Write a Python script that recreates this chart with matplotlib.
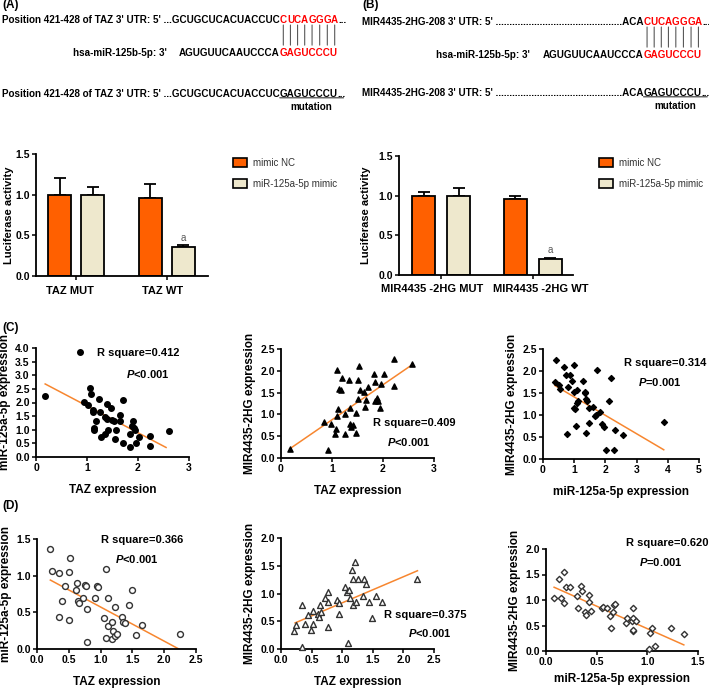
import matplotlib
matplotlib.use('Agg')
import matplotlib.pyplot as plt
from matplotlib.patches import Patch

plt.rcParams['font.family'] = ['Liberation Sans', 'DejaVu Sans']
plt.rcParams['font.weight'] = 'bold'
plt.rcParams['axes.labelweight'] = 'bold'
plt.rcParams['mathtext.fontset'] = 'custom'
plt.rcParams['mathtext.it'] = 'Liberation Sans:italic:bold'
plt.rcParams['mathtext.rm'] = 'Liberation Sans:bold'

W, H = 709, 691

# ---- sequences ----
utr_label_a = "Position 421-428 of TAZ 3' UTR: 5' ...GCUGCUCACUACCUC"
utr_label_b = "MIR4435-2HG-208 3' UTR: 5' " + "." * 46 + "ACA"
site_seq = "CUCAGGGA"
mir_label = "hsa-miR-125b-5p: 3'"
mir_seq = "AGUGUUCAAUCCCA"
seed_seq = "GAGUCCCU"

# ---- luciferase bars ----
groups_a = ['TAZ MUT', 'TAZ WT']
groups_b = ['MIR4435 -2HG MUT', 'MIR4435 -2HG WT']
series = ['mimic NC', 'miR-125a-5p mimic']
luc_a_nc = [1.0, 0.96]
luc_a_nc_err = [0.2, 0.17]
luc_a_mimic = [1.0, 0.36]
luc_a_mimic_err = [0.1, 0.02]
luc_b_nc = [1.0, 0.96]
luc_b_nc_err = [0.05, 0.04]
luc_b_mimic = [1.0, 0.2]
luc_b_mimic_err = [0.1, 0.02]

# ---- correlation (C) ----
c1_x = [0.18, 0.87, 0.95, 1.01, 1.05, 1.08, 1.11, 1.11, 1.13, 1.13, 1.18, 1.23, 1.26, 1.28,
        1.36, 1.36, 1.39, 1.40, 1.42, 1.48, 1.50, 1.52, 1.54, 1.56, 1.70, 1.65, 1.65, 1.71,
        1.84, 1.85, 1.88, 1.90, 1.93, 1.95, 1.97, 2.02, 2.23, 2.23, 2.60]
c1_y = [2.25, 3.87, 2.02, 1.90, 2.55, 2.31, 1.74, 1.64, 1.06, 1.00, 1.33, 2.14, 1.64, 0.75,
        1.46, 0.86, 1.96, 1.41, 1.00, 1.80, 1.37, 1.32, 0.67, 1.00, 2.09, 1.55, 1.33, 0.51,
        0.86, 0.37, 1.15, 1.33, 1.08, 1.00, 0.51, 0.72, 0.78, 0.42, 0.97]
c1_fit_x = [0.18, 2.55]
c1_fit_y = [2.68, 0.35]

c2_x = [0.17, 0.84, 0.93, 0.99, 1.05, 1.07, 1.09, 1.10, 1.12, 1.13, 1.17, 1.20, 1.25, 1.26,
        1.34, 1.35, 1.36, 1.38, 1.41, 1.47, 1.47, 1.51, 1.51, 1.52, 1.55, 1.63, 1.64, 1.67,
        1.71, 1.82, 1.84, 1.85, 1.88, 1.90, 1.95, 1.97, 2.01, 2.22, 2.22, 2.56]
c2_y = [0.21, 0.83, 0.19, 0.79, 0.56, 0.66, 0.97, 2.02, 1.12, 1.59, 1.55, 1.83, 1.00, 0.54,
        1.79, 1.15, 0.79, 0.70, 0.75, 0.57, 1.04, 1.79, 1.35, 2.11, 1.55, 1.52, 1.18, 1.32,
        1.62, 1.93, 1.75, 1.31, 1.37, 1.31, 1.15, 1.69, 1.93, 2.28, 1.64, 2.16]
c2_fit_x = [0.17, 2.56]
c2_fit_y = [0.21, 2.13]

c3_x = [0.38, 0.43, 0.51, 0.53, 0.68, 0.74, 0.77, 0.81, 0.88, 0.92, 1.00, 1.00, 1.00, 1.03,
        1.05, 1.09, 1.09, 1.13, 1.28, 1.34, 1.36, 1.37, 1.37, 1.41, 1.46, 1.47, 1.60, 1.66,
        1.69, 1.73, 1.82, 1.90, 1.97, 2.02, 2.10, 2.18, 2.29, 2.32, 2.56, 3.87]
c3_y = [1.76, 2.26, 1.68, 1.60, 2.10, 1.92, 0.57, 1.64, 1.92, 1.77, 2.14, 1.53, 1.16, 1.13,
        0.76, 1.57, 1.28, 1.31, 1.77, 1.53, 1.50, 1.36, 0.60, 1.32, 0.81, 1.15, 1.19, 0.97,
        0.99, 2.02, 1.06, 0.79, 0.73, 0.21, 1.31, 1.83, 0.21, 0.66, 0.55, 0.85]
c3_fit_x = [0.38, 3.87]
c3_fit_y = [1.67, 0.21]

# ---- correlation (D) ----
d1_x = [0.21, 0.24, 0.34, 0.34, 0.40, 0.44, 0.50, 0.51, 0.52, 0.62, 0.63, 0.65, 0.66, 0.73,
        0.76, 0.77, 0.78, 0.79, 0.91, 0.94, 0.96, 1.05, 1.08, 1.09, 1.11, 1.12, 1.18, 1.18,
        1.19, 1.22, 1.22, 1.25, 1.34, 1.36, 1.39, 1.44, 1.49, 1.55, 1.65, 2.25]
d1_y = [1.37, 1.07, 1.03, 0.44, 0.65, 0.86, 1.05, 0.40, 1.24, 0.80, 0.90, 0.66, 0.63, 0.69,
        0.87, 0.86, 0.09, 0.55, 0.69, 0.86, 0.85, 0.42, 0.15, 1.09, 0.69, 0.32, 0.37, 0.14,
        0.24, 0.18, 0.57, 0.21, 0.43, 0.37, 0.36, 0.60, 0.80, 0.19, 0.33, 0.20]
d1_fit_x = [0.21, 2.23]
d1_fit_y = [0.94, 0.0]

d2_x = [0.21, 0.25, 0.34, 0.34, 0.40, 0.44, 0.49, 0.52, 0.53, 0.61, 0.62, 0.63, 0.66, 0.72,
        0.77, 0.77, 0.76, 0.91, 0.94, 0.95, 1.04, 1.08, 1.09, 1.11, 1.12, 1.16, 1.17, 1.18,
        1.21, 1.22, 1.26, 1.34, 1.36, 1.39, 1.43, 1.48, 1.55, 1.65, 2.23]
d2_y = [0.33, 0.44, 0.04, 0.79, 0.45, 0.62, 0.35, 0.69, 0.45, 0.63, 0.57, 0.79, 0.67, 0.91,
        0.84, 1.03, 0.39, 0.88, 0.83, 0.63, 1.11, 1.03, 0.10, 1.07, 0.91, 1.42, 1.26, 0.79,
        1.56, 0.85, 1.26, 0.95, 1.26, 1.17, 0.84, 0.55, 0.96, 0.84, 1.26]
d2_fit_x = [0.23, 2.23]
d2_fit_y = [0.47, 1.41]

d3_x = [0.08, 0.13, 0.15, 0.18, 0.18, 0.20, 0.24, 0.31, 0.32, 0.35, 0.36, 0.38, 0.39, 0.42,
        0.42, 0.44, 0.55, 0.56, 0.60, 0.63, 0.64, 0.66, 0.67, 0.68, 0.79, 0.80, 0.85, 0.86,
        0.86, 0.86, 0.86, 0.89, 1.02, 1.03, 1.05, 1.08, 1.23, 1.36]
d3_y = [1.04, 1.42, 1.04, 0.95, 1.55, 1.25, 1.25, 1.07, 0.85, 1.27, 1.17, 0.77, 0.70, 1.10,
        0.96, 0.79, 0.85, 0.86, 0.84, 0.68, 0.45, 0.77, 0.90, 0.92, 0.54, 0.64, 0.59, 0.64,
        0.84, 0.39, 0.41, 0.58, 0.04, 0.35, 0.45, 0.10, 0.45, 0.33]
d3_fit_x = [0.08, 1.36]
d3_fit_y = [1.25, 0.12]

ORANGE = '#FF6000'
CREAM = '#EEE8CD'
FIT = '#F7862F'

fig = plt.figure(figsize=(W / 100, H / 100), dpi=100)


def px_axes(x0, y0, x1, y1):
    return fig.add_axes([x0 / W, 1 - y1 / H, (x1 - x0) / W, (y1 - y0) / H])


def style(ax):
    for s in ['top', 'right']:
        ax.spines[s].set_visible(False)
    for s in ['left', 'bottom']:
        ax.spines[s].set_linewidth(1.3)
    ax.tick_params(direction='out', length=3, width=1.1, labelsize=7.5, pad=1.5)


# ---- text panels ----
tax = fig.add_axes([0, 0, 1, 1])
tax.set_xlim(0, W)
tax.set_ylim(H, 0)
tax.axis('off')

FS = 7.1


def chain(prev, s, color='black'):
    return tax.annotate(s, xy=(1, 0), xycoords=prev, ha='left', va='bottom',
                        fontsize=FS, color=color)


def site_block(x0, label, y_top, y_mut):
    t = tax.text(x0, y_top, label, fontsize=FS, va='center', ha='left')
    letters = []
    prev = t
    for ch in site_seq:
        prev = chain(prev, ch, 'red')
        letters.append(prev)
    chain(prev, '...')
    for lt in letters:
        tax.annotate('', xy=(0.5, 0.0), xycoords=lt, xytext=(0, -14.5),
                     textcoords='offset points',
                     arrowprops=dict(arrowstyle='-', lw=0.8, color='0.35',
                                     shrinkA=0, shrinkB=0))
    # miRNA line
    seed = tax.annotate(seed_seq, xy=(0, 0), xycoords=letters[0], xytext=(0, -23.8),
                        textcoords='offset points', ha='left', va='bottom',
                        fontsize=FS, color='red')
    seq = tax.annotate(mir_seq, xy=(0, 0), xycoords=seed, ha='right', va='bottom',
                       fontsize=FS)
    tax.annotate(mir_label, xy=(0, 0.5), xycoords=seq, xytext=(-9, 0),
                 textcoords='offset points', ha='right', va='center', fontsize=FS)
    # mutant line
    t3 = tax.text(x0, y_mut, label, fontsize=FS, va='center', ha='left')
    mut = chain(t3, seed_seq)
    chain(mut, '...')
    tax.annotate('', xy=(1.1, 0.12), xycoords=mut, xytext=(0, 0.12), textcoords=mut,
                 arrowprops=dict(arrowstyle='-', lw=0.8, color='0.2', shrinkA=0, shrinkB=0))
    tax.annotate('mutation', xy=(0.55, 0), xycoords=mut, xytext=(0, -2),
                 textcoords='offset points', ha='center', va='top', fontsize=FS)


site_block(2, utr_label_a, 20, 94)
site_block(362, utr_label_b, 22, 93)

for lab, x, y in [('(A)', 2, 5), ('(B)', 362, 5), ('(C)', 2, 328), ('(D)', 2, 506)]:
    tax.text(x, y, lab, fontsize=8.5, va='center', ha='left')


# ---- bar charts ----
def bar_panel(ax, groups, nc, nc_err, mim, mim_err, centers, off, label_x, ylab_x):
    xs_nc = [c - off for c in centers]
    xs_m = [c + off for c in centers]
    ax.bar(xs_nc, nc, width=1.0, color=ORANGE, edgecolor='black', linewidth=1.3, zorder=2)
    ax.bar(xs_m, mim, width=1.0, color=CREAM, edgecolor='black', linewidth=1.3, zorder=2)
    ax.errorbar(xs_nc, nc, yerr=[[0] * len(nc), nc_err], fmt='none', ecolor='black',
                elinewidth=1.3, capsize=4, capthick=1.3, zorder=1)
    ax.errorbar(xs_m, mim, yerr=[[0] * len(mim), mim_err], fmt='none', ecolor='black',
                elinewidth=1.3, capsize=4, capthick=1.3, zorder=1)
    ax.text(xs_m[1], mim[1] + mim_err[1] + 0.03, 'a', ha='center', va='bottom',
            fontsize=7, fontweight='normal', color='0.35')
    ax.set_xlim(0, 7.5)
    ax.set_ylim(0, 1.5)
    ax.set_yticks([0, 0.5, 1.0, 1.5])
    ax.set_yticklabels(['0.0', '0.5', '1.0', '1.5'])
    ax.set_xticks(centers)
    ax.set_xticklabels([])
    for g, lx in zip(groups, label_x):
        ax.text(lx, -0.12, g, transform=ax.get_xaxis_transform(), ha='center', va='center',
                fontsize=8)
    ax.set_ylabel('Luciferase activity', fontsize=8)
    ax.yaxis.set_label_coords(ylab_x, 0.5)
    style(ax)


ax_a = px_axes(36, 154, 208, 276)
bar_panel(ax_a, groups_a, luc_a_nc, luc_a_nc_err, luc_a_mimic, luc_a_mimic_err,
          [1.75, 5.7], 0.72, [1.5, 5.5], -0.128)
ax_b = px_axes(399, 156, 573, 275)
bar_panel(ax_b, groups_b, luc_b_nc, luc_b_nc_err, luc_b_mimic, luc_b_mimic_err,
          [1.82, 5.77], 0.75, [1.42, 6.12], -0.16)

handles = [Patch(facecolor=ORANGE, edgecolor='black', linewidth=1.2, label=series[0]),
           Patch(facecolor=CREAM, edgecolor='black', linewidth=1.2, label=series[1])]
for lx in [228, 594]:
    fig.legend(handles=handles, loc='upper left', bbox_to_anchor=(lx / W, 1 - 153 / H),
               frameon=False, prop=dict(size=7, weight='normal'), handlelength=1.5,
               handleheight=1.1, labelspacing=1.1, handletextpad=0.6, borderpad=0,
               labelcolor='0.2')


# ---- scatter plots ----
def scatter_panel(ax, x, y, fx, fy, marker, filled, size, xlim, xticks, xfmt, ylim, yticks,
                  xlabel, ylabel, rsq, ptxt, rpos, ppos, xpad=8):
    if filled:
        ax.scatter(x, y, marker=marker, s=size, color='black', clip_on=False, zorder=3)
    else:
        ax.scatter(x, y, marker=marker, s=size, facecolor='white', edgecolor='0.2',
                   linewidth=1.0, clip_on=False, zorder=3)
    ax.plot(fx, fy, color=FIT, lw=1.1, zorder=2)
    ax.set_xlim(*xlim)
    ax.set_ylim(*ylim)
    ax.set_xticks(xticks)
    ax.set_xticklabels([xfmt % v for v in xticks])
    ax.set_yticks(yticks)
    ax.set_yticklabels(['%.1f' % v for v in yticks])
    ax.set_xlabel(xlabel, fontsize=8.5, labelpad=xpad)
    ax.set_ylabel(ylabel, fontsize=8.5, labelpad=3)
    style(ax)
    ax.text(rpos[0], rpos[1], rsq, ha='center', va='center', fontsize=8)
    ax.text(ppos[0], ppos[1], ptxt, ha='center', va='center', fontsize=8)


yt4 = [0, 0.5, 1.0, 1.5, 2.0, 2.5, 3.0, 3.5, 4.0]
yt25 = [0, 0.5, 1.0, 1.5, 2.0, 2.5]
yt20 = [0, 0.5, 1.0, 1.5, 2.0]
yt15 = [0, 0.5, 1.0, 1.5]

ax = px_axes(36, 348, 189, 457)
scatter_panel(ax, c1_x, c1_y, c1_fit_x, c1_fit_y, 'o', True, 16, (0, 3), [0, 1, 2, 3], '%d',
              (0, 4), yt4, 'TAZ expression', 'miR-125a-5p expression',
              'R square=0.412', r'$\mathit{P}$<0.001', (2.0, 3.8), (2.2, 3.05))
ax = px_axes(281, 349, 434, 458)
scatter_panel(ax, c2_x, c2_y, c2_fit_x, c2_fit_y, '^', True, 14, (0, 3), [0, 1, 2, 3], '%d',
              (0, 2.5), yt25, 'TAZ expression', 'MIR4435-2HG expression',
              'R square=0.409', r'$\mathit{P}$<0.001', (2.61, 0.8), (2.5, 0.36))
ax = px_axes(543, 349, 699, 459)
scatter_panel(ax, c3_x, c3_y, c3_fit_x, c3_fit_y, 'D', True, 9, (0, 5), [0, 1, 2, 3, 4, 5], '%d',
              (0, 2.5), yt25, 'miR-125a-5p expression', 'MIR4435-2HG expression',
              'R square=0.314', r'$\mathit{P}$=0.001', (3.93, 2.19), (3.75, 1.74))

ax = px_axes(37, 539, 196, 649)
scatter_panel(ax, d1_x, d1_y, d1_fit_x, d1_fit_y, 'o', False, 18, (0, 2.5),
              [0, 0.5, 1.0, 1.5, 2.0, 2.5], '%.1f',
              (0, 1.5), yt15, 'TAZ expression', 'miR-125a-5p expression',
              'R square=0.366', r'$\mathit{P}$<0.001', (1.66, 1.49), (1.57, 1.23))
ax = px_axes(281, 538, 434, 649)
scatter_panel(ax, d2_x, d2_y, d2_fit_x, d2_fit_y, '^', False, 18, (0, 2.5),
              [0, 0.5, 1.0, 1.5, 2.0, 2.5], '%.1f',
              (0, 2.0), yt20, 'TAZ expression', 'MIR4435-2HG expression',
              'R square=0.375', r'$\mathit{P}$<0.001', (2.35, 0.62), (2.43, 0.28))
ax = px_axes(546, 549, 698, 651)
scatter_panel(ax, d3_x, d3_y, d3_fit_x, d3_fit_y, 'D', False, 10, (0, 1.5),
              [0, 0.5, 1.0, 1.5], '%.1f',
              (0, 2.0), yt20, 'miR-125a-5p expression', 'MIR4435-2HG expression',
              'R square=0.620', r'$\mathit{P}$=0.001', (1.2, 2.12), (1.13, 1.74), xpad=4)

fig.savefig('out.png', dpi=100)
